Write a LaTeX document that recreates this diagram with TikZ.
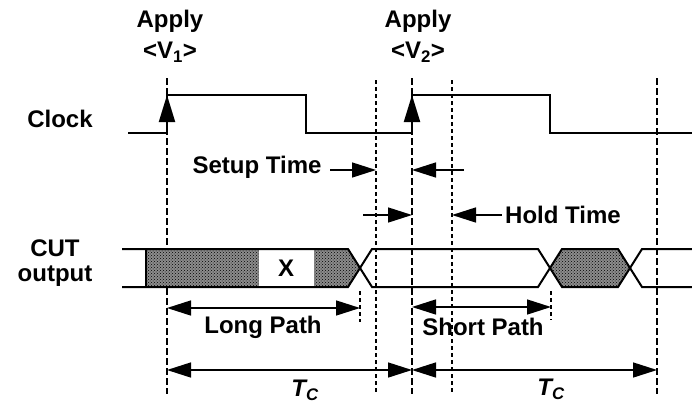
\documentclass[tikz,border=0pt]{standalone}
\usepackage{fontspec}
\setmainfont{Liberation Sans}
\usetikzlibrary{arrows.meta,patterns}

\begin{document}
\begin{tikzpicture}[x=1pt, y=-1pt, >={Triangle[length=24pt,width=15pt]},
	font=\fontsize{24}{26}\selectfont\bfseries, line join=miter,
	sig/.style={line width=2pt},
	mark line/.style={line width=2pt, dash pattern=on 7pt off 3pt},
	fine line/.style={line width=1.4pt, dash pattern=on 4pt off 3pt},
	dim/.style={line width=1.5pt},
	shade/.style={fill=black!45, postaction={pattern=crosshatch dots}}]
	\def\ta{167} \def\tb{412} \def\tc{657} \def\ts{376} \def\th{452}
	\def\hi{95} \def\lo{133} \def\ytop{249} \def\ybot{287} \def\ymid{268}
	\useasboundingbox (0,0) rectangle (692,404);
	% labels on the left
	\node (clk) at (60,119) {Clock};
	\node[inner sep=0pt] (cut) at (55,248) {CUT};
	\node[inner sep=0pt] (out) at (55,276) {output};
	\node (ap1) at (170,21) {Apply};
	\node (v1) at (170,52) {<V\textsubscript{1}>};
	\node (ap2) at (418,21) {Apply};
	\node (v2) at (418,52) {<V\textsubscript{2}>};
	% reference lines
	\draw[mark line] (\ta,78) -- (\ta,394);
	\draw[mark line] (\tb,78) -- (\tb,394);
	\draw[mark line] (\tc,78) -- (\tc,394);
	\draw[fine line] (\ts,80) -- (\ts,394);
	\draw[fine line] (\th,80) -- (\th,394);
	% clock
	\draw[sig] (128,\lo) -- (\ta,\lo) -- (\ta,\hi) -- (306,\hi) -- (306,\lo) -- (\tb,\lo)
		-- (\tb,\hi) -- (550,\hi) -- (550,\lo) -- (692,\lo);
	\draw[sig,->,>={Triangle[length=27pt,width=16pt]}] (\ta,\lo) -- (\ta,\hi);
	\draw[sig,->,>={Triangle[length=27pt,width=16pt]}] (\tb,\lo) -- (\tb,\hi);
	% CUT output
	\fill[shade] (146,\ytop) -- (348,\ytop) -- (360,\ymid) -- (348,\ybot) -- (146,\ybot) -- cycle;
	\fill[white] (259,\ytop) rectangle (314,\ybot);
	\node (x) at (286,\ymid) {X};
	\fill[shade] (550,\ymid) -- (562,\ytop) -- (618,\ytop) -- (630,\ymid) -- (618,\ybot) -- (562,\ybot) -- cycle;
	\draw[sig] (122,\ytop) -- (348,\ytop) -- (372,\ybot) -- (538,\ybot) -- (562,\ytop) -- (618,\ytop) -- (642,\ybot) -- (692,\ybot);
	\draw[sig] (122,\ybot) -- (348,\ybot) -- (372,\ytop) -- (538,\ytop) -- (562,\ybot) -- (618,\ybot) -- (642,\ytop) -- (692,\ytop);
	\draw[sig] (146,\ytop) -- (146,\ybot);
	\draw[fine line] (360,291) -- (360,322);
	\draw[fine line] (551,291) -- (551,320);
	% setup and hold
	\node (setup) at (257,167) {Setup Time};
	\draw[dim,->] (330,170) -- (\ts,170);
	\draw[dim,->] (464,170) -- (\tb,170);
	\node (hold) at (563,215) {Hold Time};
	\draw[dim,->] (363,215) -- (\tb,215);
	\draw[dim,->] (hold.west) -- (\th,215);
	% paths
	\draw[dim,<->] (\ta,308) -- (360,308);
	\node (long) at (263,327) {Long Path};
	\draw[dim,<->] (\tb,307) -- (551,307);
	\node (short) at (483,327) {Short Path};
	% clock period
	\draw[dim,<->] (\ta,370) -- (\tb,370);
	\draw[dim,<->] (\tb,370) -- (\tc,370);
	\node (tc1) at (305,390) {\itshape T\textsubscript{C}};
	\node (tc2) at (551,389) {\itshape T\textsubscript{C}};
\end{tikzpicture}
\end{document}
